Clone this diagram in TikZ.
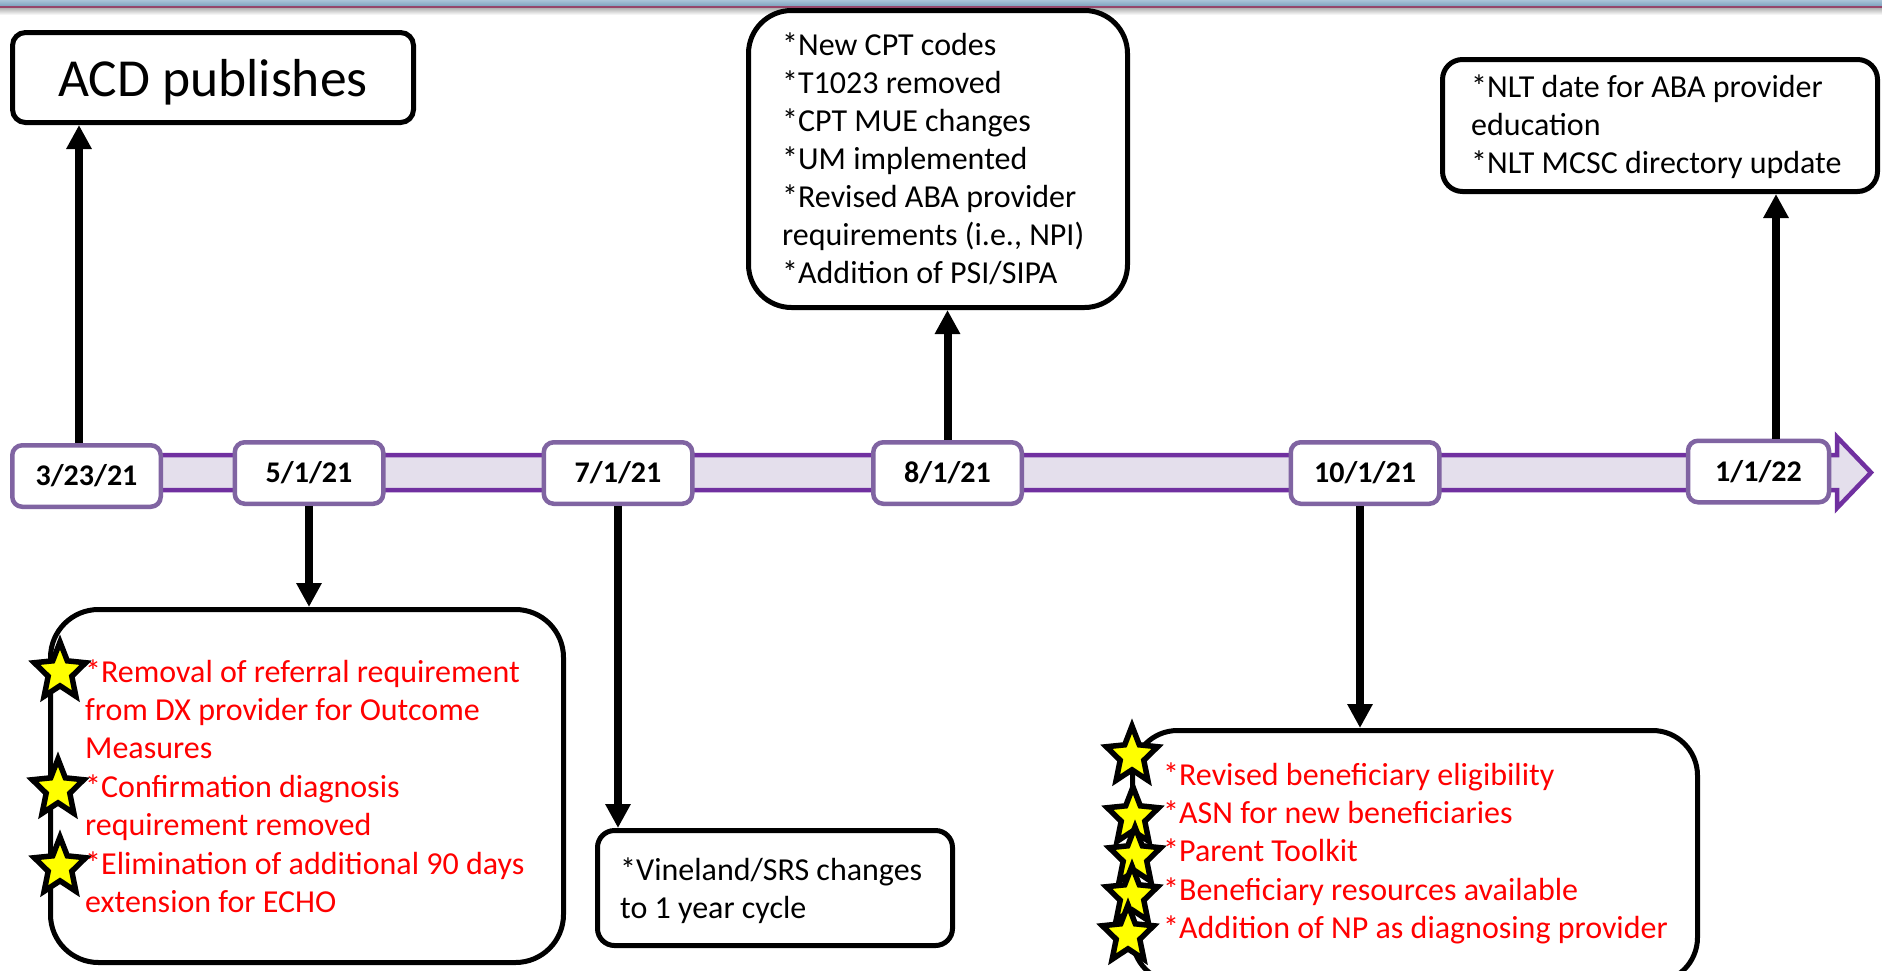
\documentclass[tikz,border=0pt]{standalone}
\usepackage{fontspec}
\setmainfont{Carlito}
\usetikzlibrary{arrows.meta,calc}
\definecolor{tlpurple}{HTML}{7030A0}
\definecolor{tlfill}{HTML}{E4DFEC}
\definecolor{dateborder}{HTML}{8064A2}
\definecolor{txtred}{HTML}{FF0000}
\definecolor{staryellow}{HTML}{FFFF00}
\definecolor{bartop}{HTML}{A9C3D7}
\definecolor{barbot}{HTML}{7EA2BE}
\definecolor{barline}{HTML}{96466A}
\tikzset{
  evbox/.style={draw=black, line width=5pt, fill=white, rounded corners=#1, inner sep=0pt},
  datebox/.style={draw=dateborder, line width=4.5pt, fill=white, rounded corners=10pt,
    minimum width=148.5pt, minimum height=61.5pt, inner sep=0pt,
    font=\fontsize{30}{35}\selectfont\bfseries},
  conn/.style={line width=8pt, -{Triangle[length=24pt,width=24pt]}},
  bodytxt/.style={anchor=base west, inner sep=0pt, font=\fontsize{32}{38.4}\selectfont},
  redtxt/.style={bodytxt, text=txtred},
  starsty/.style={fill=staryellow, draw=black, line width=5.5pt, line join=miter, miter limit=10},
}
\newcommand\yelstar[2]{\draw[starsty,shift={(#1,#2)},xscale=27,yscale=-30]
  (90:1) -- (126:.46) -- (162:1) -- (198:.46) -- (234:1) -- (270:.46) -- (306:1) -- (342:.46) -- (18:1) -- (54:.46) -- cycle;}
\begin{document}
\begin{tikzpicture}[x=1pt,y=-1pt]
\useasboundingbox (0,0) rectangle (1882,970);
\clip (0,0) rectangle (1882,970);
\fill[white] (0,0) rectangle (1882,970);
% top bar
\shade[top color=bartop, bottom color=barbot] (0,0) rectangle (1882,6);
\fill[barline] (0,6) rectangle (1882,8);
\shade[top color=black!30, bottom color=white] (0,8) rectangle (1882,15);

% timeline arrow
\draw[tlpurple, fill=tlfill, line width=4.5pt, line join=miter]
  (14,455) -- (1837,455) -- (1837,437) -- (1871,472.5) -- (1837,508) -- (1837,490) -- (14,490) -- cycle;

% date boxes
\node[datebox] (d0) at (86.5,476) {3/23/21};
\node[datebox] (d1) at (309,473) {5/1/21};
\node[datebox] (d2) at (618,473) {7/1/21};
\node[datebox] (d3) at (947.5,473) {8/1/21};
\node[datebox] (d4) at (1365,473) {10/1/21};
\node[datebox, minimum width=141pt] (d5) at (1758.5,471.5) {1/1/22};

% event boxes
\node[evbox=13pt, minimum width=401pt, minimum height=90pt] (acd) at (213,77.5) {};
\node[anchor=base, inner sep=0pt, font=\fontsize{53.5}{60}\selectfont] (acdt) at (213,96) {ACD publishes};
\node[evbox=43pt, minimum width=379pt, minimum height=297pt] (b3) at (938,159) {};
\node[evbox=20pt, minimum width=435pt, minimum height=132pt] (b5) at (1660,125.5) {};
\node[evbox=48pt, minimum width=513pt, minimum height=353pt] (b1) at (307,786) {};
\node[evbox=17pt, minimum width=355pt, minimum height=115pt] (b2) at (775,888) {};
\node[evbox=45pt, minimum width=565pt, minimum height=252pt] (b4) at (1415,856.5) {};

% connectors
\draw[conn] ([xshift=-7.5pt]d0.north) -- ([xshift=-7.5pt]d0.north |- acd.south);
\draw[conn] (d1.south) -- (d1.south |- b1.north);
\draw[conn] (d2.south) -- (d2.south |- b2.north);
\draw[conn] (d3.north) -- (d3.north |- b3.south);
\draw[conn] ([xshift=-5pt]d4.south) -- ([xshift=-5pt]d4.south |- b4.north);
\draw[conn] ([xshift=17.5pt]d5.north) -- ([xshift=17.5pt]d5.north |- b5.south);

% texts
\foreach \t [count=\i from 0] in {{*New CPT codes},{*T1023 removed},{*CPT MUE changes},{*UM implemented},{*Revised ABA provider},{requirements (i.e., NPI)},{*Addition of PSI/SIPA}}
  \node[bodytxt] (tc\i) at (782,55+38.1*\i) {\t};
\foreach \t [count=\i from 0] in {{*NLT date for ABA provider},{education},{*NLT MCSC directory update}}
  \node[bodytxt] (te\i) at (1471,97.5+38*\i) {\t};
\foreach \t [count=\i from 0] in {{*Vineland/SRS changes},{to 1 year cycle}}
  \node[bodytxt] (tb\i) at (620,880+38.4*\i) {\t};
\foreach \t [count=\i from 0] in {{*Removal of referral requirement},{from DX provider for Outcome},{Measures},{*Confirmation diagnosis},{requirement removed},{*Elimination of additional 90 days},{extension for ECHO}}
  \node[redtxt] (ta\i) at (85,682+38.4*\i) {\t};
\foreach \t [count=\i from 0] in {{*Revised beneficiary eligibility},{*ASN for new beneficiaries},{*Parent Toolkit},{*Beneficiary resources available},{*Addition of NP as diagnosing provider}}
  \node[redtxt] (td\i) at (1163,785+38.4*\i) {\t};

% stars
\yelstar{60}{672}
\yelstar{58}{789}
\yelstar{60}{867}
\yelstar{1132}{756}
\yelstar{1133}{817}
\yelstar{1135}{857}
\yelstar{1132}{896}
\yelstar{1128}{935}
\end{tikzpicture}
\end{document}
